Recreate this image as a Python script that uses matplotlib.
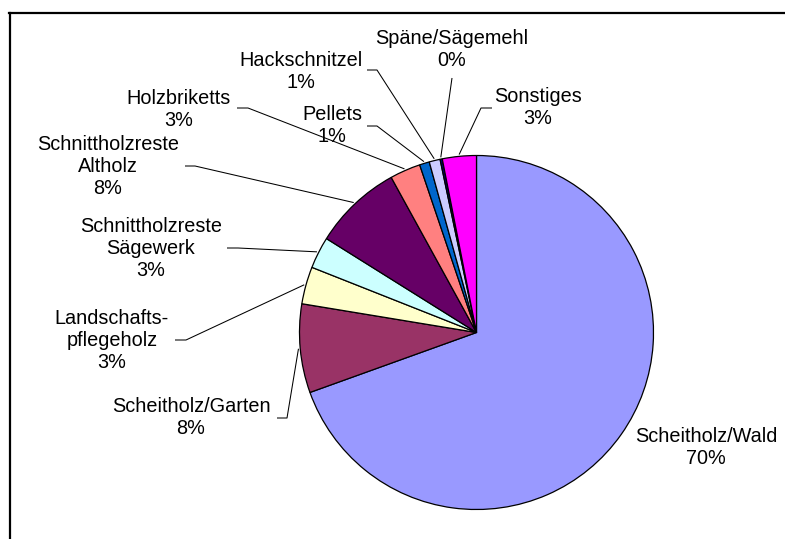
import numpy as np
import matplotlib.pyplot as plt
from matplotlib.lines import Line2D

plt.rcParams["font.family"] = ["Liberation Sans", "DejaVu Sans"]

categories = ["Scheitholz/Wald", "Scheitholz/Garten", "Landschafts-\npflegeholz",
              "Schnittholzreste\nSägewerk", "Schnittholzreste\nAltholz", "Holzbriketts",
              "Pellets", "Hackschnitzel", "Späne/Sägemehl", "Sonstiges"]
shares = [69.5, 8.1, 3.4, 2.9, 8.1, 2.8, 0.9, 1.0, 0.2, 3.1]
colors = ["#9999FF", "#993366", "#FFFFCC", "#CCFFFF", "#660066",
          "#FF8080", "#0066CC", "#CCCCFF", "#000080", "#FF00FF"]

W, H = 785, 539
cx, cy, R = 476.5, 332.5, 177

# label centres and the short horizontal piece of each leader (pixel coords, y down)
label_xy = [(706, 448), (191, 418), (112, 340), (151, 249), (108, 167),
            (179, 109), (332, 126), (301, 71), (452, 50), (538, 108)]
leader_start = [None, ((277, 418), (287, 418)), ((175, 340), (186, 340)),
                ((227, 248), (238, 248)), ((185, 166), (195, 166)),
                ((237, 108), (248, 108)), ((367, 126), (377, 126)),
                ((367, 70), (377, 70)), ((452, 78), (452, 78)),
                ((492, 108), (481, 108))]

fig = plt.figure(figsize=(W / 100, H / 100), dpi=100)
ax = fig.add_axes([0, 0, 1, 1])

wedges, _ = ax.pie(shares, colors=colors, startangle=90, counterclock=False,
                   center=(cx, H - cy), radius=R,
                   wedgeprops=dict(edgecolor="black", linewidth=0.9))

ax.set_xlim(0, W)
ax.set_ylim(0, H)
ax.set_aspect("auto")
ax.axis("off")

for w, name, v, (lx, ly), seg in zip(wedges, categories, shares, label_xy, leader_start):
    ax.text(lx, H - ly, f"{name}\n{v:.0f}%", ha="center", va="center",
            fontsize=14.3, linespacing=1.2, color="black")
    if seg is None:
        continue
    mid = np.deg2rad((w.theta1 + w.theta2) / 2)
    ex = cx + R * 1.01 * np.cos(mid)
    ey = (H - cy) + R * 1.01 * np.sin(mid)
    (x0, y0), (x1, y1) = seg
    ax.plot([x0, x1, ex], [H - y0, H - y1, ey], color="black", lw=0.75,
            solid_capstyle="butt")

# chart area border, running off the right and bottom edges
fig.add_artist(Line2D([10 / W, 10 / W], [0, 1 - 13 / H], color="black", lw=1.6,
                      transform=fig.transFigure))
fig.add_artist(Line2D([9 / W, 1], [1 - 13 / H, 1 - 13 / H], color="black", lw=1.6,
                      transform=fig.transFigure))

fig.savefig("out.png", dpi=100)
